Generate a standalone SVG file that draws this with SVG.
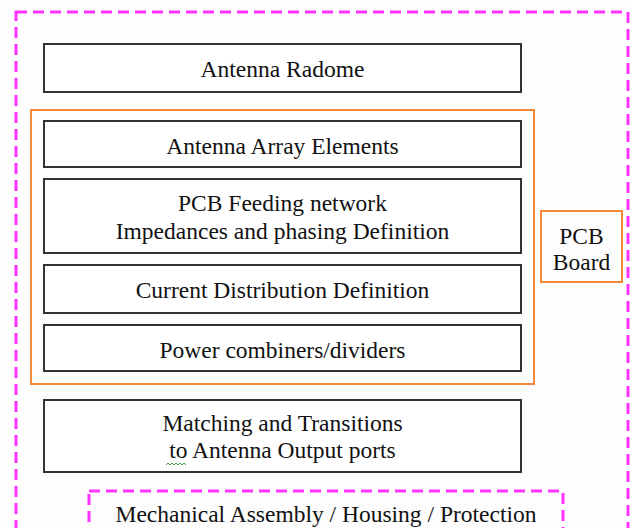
<svg xmlns="http://www.w3.org/2000/svg" width="631" height="528" viewBox="0 0 631 528">
<style>
.bg{fill:#fdfdfd}
.box{fill:#ffffff;stroke:#333333;stroke-width:2}
.orange{fill:none;stroke:#f5883a;stroke-width:2}
.dash{fill:none;stroke:#ff33ff;stroke-width:3;stroke-dasharray:11 6}
.t{font-family:"Times New Roman",Tinos,"Liberation Serif","DejaVu Serif","Noto Serif",FreeSerif,serif;font-size:23.5px;fill:#111111;text-anchor:middle}
</style>
<rect class="bg" x="0" y="0" width="631" height="528"/>
<g id="housing-outer"><rect class="dash" x="16" y="12" width="612" height="540"/></g>
<g id="pcb-group"><rect class="orange" x="31" y="110" width="503" height="274"/></g>
<g id="radome"><rect class="box" x="44" y="44" width="477" height="48"/><text class="t" x="282.5" y="77">Antenna Radome</text></g>
<g id="array"><rect class="box" x="44" y="121" width="477" height="46"/><text class="t" x="282.5" y="154">Antenna Array Elements</text></g>
<g id="feeding"><rect class="box" x="44" y="179" width="477" height="74"/><text class="t" x="282.5" y="211">PCB Feeding network</text><text class="t" x="282.5" y="239">Impedances and phasing Definition</text></g>
<g id="current"><rect class="box" x="44" y="265" width="477" height="48"/><text class="t" x="282.5" y="298">Current Distribution Definition</text></g>
<g id="power"><rect class="box" x="44" y="325" width="477" height="46"/><text class="t" x="282.5" y="358">Power combiners/dividers</text></g>
<g id="matching"><rect class="box" x="44" y="400" width="477" height="72"/><text class="t" x="282.5" y="431">Matching and Transitions</text><text class="t" x="282.5" y="458">to Antenna Output ports</text><path d="M166 465 l2 -2 l2 2 l2 -2 l2 2 l2 -2 l2 2 l2 -2 l2 2 l2 -2 l2 2" fill="none" stroke="#3aa03a" stroke-width="1"/></g>
<g id="pcb-board"><rect class="orange" x="541" y="211" width="81" height="71"/><text class="t" x="581.5" y="244">PCB</text><text class="t" x="581.5" y="270">Board</text></g>
<g id="mechanical"><rect class="dash" x="89" y="491" width="474" height="60"/><text class="t" x="326" y="522">Mechanical Assembly / Housing / Protection</text></g>
<g id="connectors"></g>
</svg>
